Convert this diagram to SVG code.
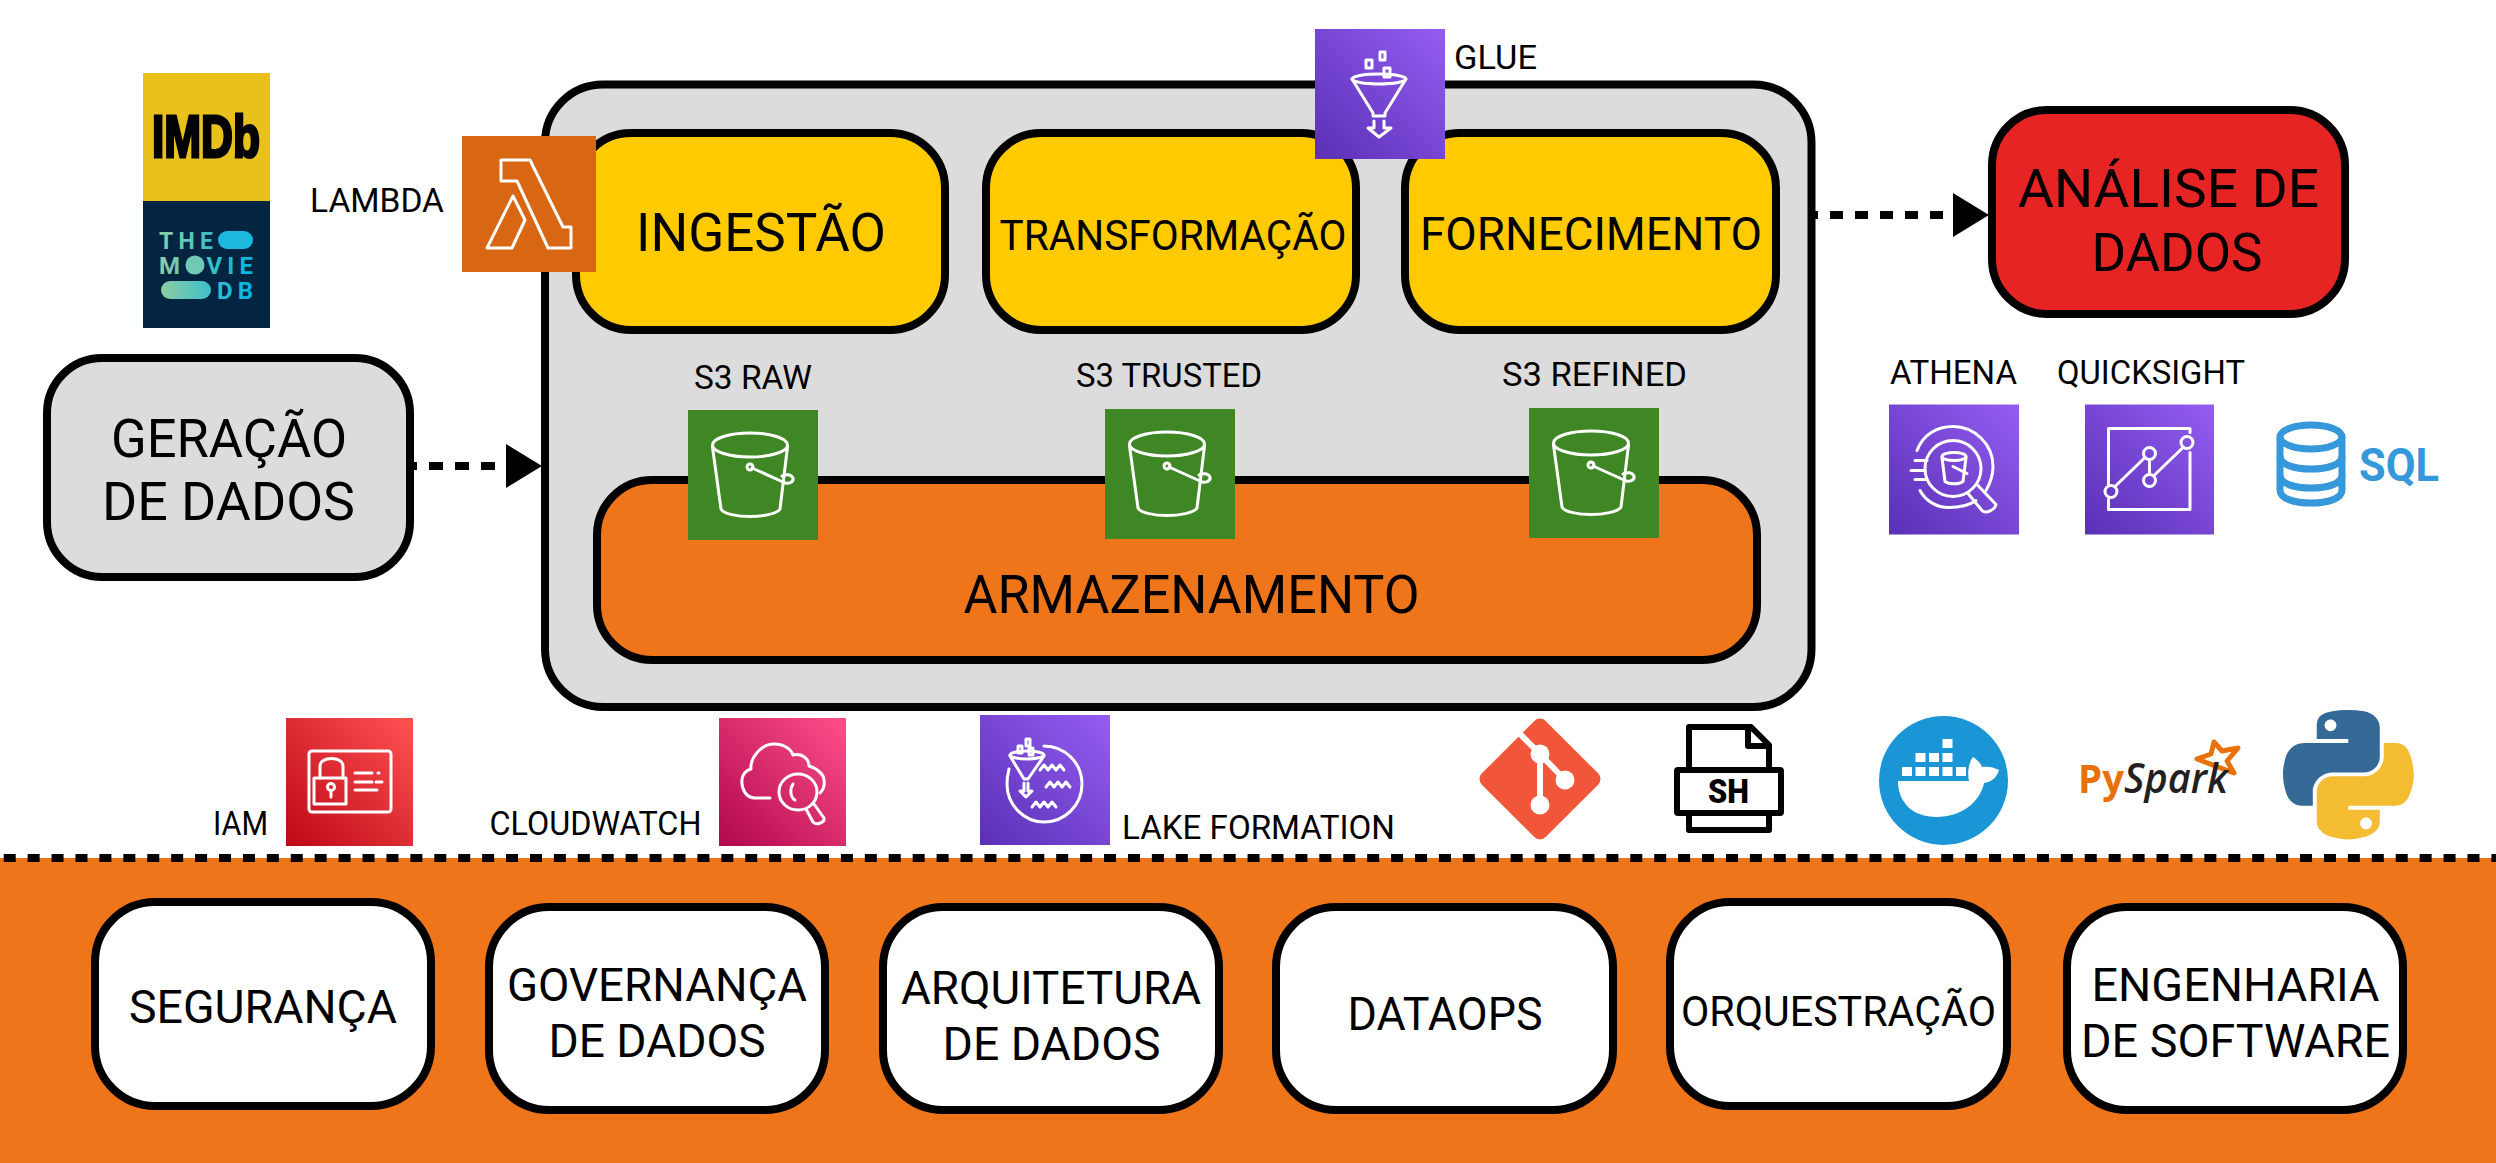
<svg xmlns="http://www.w3.org/2000/svg" width="2496" height="1163" viewBox="0 0 2496 1163">
<style>
text{font-family:Roboto,"Noto Sans",sans-serif;fill:#000}
.box{stroke:#000;stroke-width:8}
.gray{fill:#dcdcdc}.yel{fill:#ffcb00}.org{fill:#ee751a}.red{fill:#e62424}.wht{fill:#fff}
.t52{font-size:53px}.t46{font-size:46px}.t42{font-size:43px}.t33{font-size:33px}
.ico{fill:none;stroke:#fff;stroke-width:3;stroke-linejoin:round;stroke-linecap:round}
.dash{fill:none;stroke:#000;stroke-width:8}
.db{fill:none;stroke:#3498db;stroke-width:7}
</style>
<defs>
<linearGradient id="purple" x1="0" y1="1" x2="1" y2="0"><stop offset="0" stop-color="#5a30b5"/><stop offset="1" stop-color="#945df2"/></linearGradient>
<linearGradient id="iamg" x1="0" y1="1" x2="1" y2="0"><stop offset="0" stop-color="#bd0816"/><stop offset="1" stop-color="#ff5252"/></linearGradient>
<linearGradient id="cwg" x1="0" y1="1" x2="1" y2="0"><stop offset="0" stop-color="#b0084d"/><stop offset="1" stop-color="#ff4f8b"/></linearGradient>
<linearGradient id="tm" gradientUnits="userSpaceOnUse" x1="159" y1="0" x2="253" y2="0"><stop offset="0" stop-color="#90cea1"/><stop offset=".55" stop-color="#3cbec9"/><stop offset="1" stop-color="#01b4e4"/></linearGradient>
<g id="bucket">
<rect width="130" height="130" fill="#3f8624"/>
<g class="ico">
<ellipse cx="62" cy="35" rx="37.5" ry="12"/>
<path d="M24.500 37L33 99C35 104 50 106.500 62 106.500C74 106.500 89 104 92 99L99.500 37"/>
<circle cx="62" cy="57" r="3"/>
<path d="M64 58L95 72C100 75 106 72 105 68C103 64 98 64 94 66"/>
</g>
</g>
</defs>

<rect width="2496" height="1163" fill="#fff"/>
<rect x="0" y="858" width="2496" height="305" class="org"/>

<g id="connectors">
<path class="dash" d="M403 466H495" stroke-dasharray="14 12"/>
<polygon points="506,444 542,466 506,488" fill="#000"/>
<path class="dash" d="M1805 215H1943" stroke-dasharray="13 12"/>
<polygon points="1953,193 1989,215 1953,237" fill="#000"/>
<path class="dash" d="M-20.200 858H2496" stroke-dasharray="12 11.920"/>
</g>

<g id="geracao">
<rect class="box gray" x="47" y="358" width="363" height="219" rx="55"/>
<text class="t52" x="111" y="457" textLength="236" lengthAdjust="spacingAndGlyphs">GERAÇÃO</text>
<text class="t52" x="102" y="520" textLength="253" lengthAdjust="spacingAndGlyphs">DE DADOS</text>
</g>

<g id="painel">
<rect class="box gray" x="545" y="84.500" width="1266.500" height="622.500" rx="58"/>
</g>

<g id="ingestao">
<rect class="box yel" x="576" y="133" width="369" height="197" rx="55"/>
<text class="t52" x="636" y="251" textLength="250" lengthAdjust="spacingAndGlyphs">INGESTÃO</text>
</g>
<g id="transformacao">
<rect class="box yel" x="986" y="133" width="370" height="197" rx="55"/>
<text class="t42" x="999.500" y="250" textLength="347" lengthAdjust="spacingAndGlyphs">TRANSFORMAÇÃO</text>
</g>
<g id="fornecimento">
<rect class="box yel" x="1405" y="133" width="371" height="197" rx="55"/>
<text class="t46" x="1420" y="250" textLength="342" lengthAdjust="spacingAndGlyphs">FORNECIMENTO</text>
</g>
<g id="armazenamento">
<rect class="box org" x="597" y="480" width="1160" height="180" rx="55"/>
<text class="t52" x="963.500" y="613" textLength="456" lengthAdjust="spacingAndGlyphs">ARMAZENAMENTO</text>
</g>
<g id="analise">
<rect class="box red" x="1992" y="110" width="353" height="204" rx="55"/>
<text class="t52" x="2018" y="207" textLength="301" lengthAdjust="spacingAndGlyphs">ANÁLISE DE</text>
<text class="t52" x="2091.500" y="271" textLength="171" lengthAdjust="spacingAndGlyphs">DADOS</text>
</g>

<g id="imdb">
<rect x="143" y="73" width="127" height="128" fill="#e8c11c"/>
<text x="152" y="157" font-size="60" font-weight="700" style="font-family:'Liberation Sans',sans-serif" stroke="#000" stroke-width="3" textLength="108" lengthAdjust="spacingAndGlyphs">IMDb</text>
</g>
<g id="tmdb">
<rect x="143" y="201" width="127" height="127" fill="#032541"/>
<text x="159" y="249" font-size="23" font-weight="700" style="fill:url(#tm)" textLength="54">THE</text>
<rect x="218" y="231" width="35" height="18" rx="9" fill="#1cb8de"/>
<text x="159" y="274" font-size="24" font-weight="700" style="fill:url(#tm)" textLength="94">MOVIE</text>
<circle cx="195" cy="265" r="9.500" fill="#6fc9b4"/>
<rect x="161" y="281" width="50" height="18" rx="9" fill="url(#tm)"/>
<text x="217" y="299" font-size="24" font-weight="700" style="fill:url(#tm)" textLength="36">DB</text>
</g>

<g id="lambda">
<text class="t33" x="310" y="212" textLength="134" lengthAdjust="spacingAndGlyphs">LAMBDA</text>
<rect x="462" y="136" width="134" height="136" fill="#d86613"/>
<g transform="translate(462 136)" class="ico">
<path d="M39 24H68L101 91H109V112H86L55 45H39Z"/>
<path d="M51 60L63 84L50 112H25Z"/>
</g>
</g>

<g id="glue">
<rect x="1315" y="29" width="130" height="130" fill="url(#purple)"/>
<g transform="translate(1315 29)" class="ico">
<rect x="65" y="23" width="5" height="8"/><rect x="51" y="31" width="6" height="8"/><rect x="69" y="39" width="6" height="9"/>
<ellipse cx="64" cy="50" rx="27" ry="5"/>
<path d="M37 50L58 84V87H70V84L91 50"/>
<path d="M59 92V99H53L64 108L76 99H69V92"/>
</g>
<text class="t33" x="1454" y="69" textLength="83" lengthAdjust="spacingAndGlyphs">GLUE</text>
</g>

<g id="s3raw">
<text class="t33" x="694" y="389" textLength="118" lengthAdjust="spacingAndGlyphs">S3 RAW</text>
<use href="#bucket" x="688" y="410"/>
</g>
<g id="s3trusted">
<text class="t33" x="1076" y="387" textLength="186" lengthAdjust="spacingAndGlyphs">S3 TRUSTED</text>
<use href="#bucket" x="1105" y="409"/>
</g>
<g id="s3refined">
<text class="t33" x="1502" y="386" textLength="185" lengthAdjust="spacingAndGlyphs">S3 REFINED</text>
<use href="#bucket" x="1529" y="408"/>
</g>

<g id="athena">
<text class="t33" x="1890" y="384" textLength="127" lengthAdjust="spacingAndGlyphs">ATHENA</text>
<rect x="1889" y="404.500" width="130" height="130" fill="url(#purple)"/>
<g transform="translate(1889 404.500)" class="ico">
<path d="M28 46C34 30 48 22 64 22C86 22 104 40 104 62C104 70 101 79 97 86"/>
<path d="M31 86C37 97 48 103 60 103C70 103 80 101 87 96"/>
<circle cx="64" cy="64" r="28"/>
<ellipse cx="65" cy="52" rx="12" ry="4"/>
<path d="M53 53L56 77C60 80 70 80 74 77L77 53"/>
<path d="M64 62L78 69"/>
<path d="M26 56H38M22 66H36M26 75H38"/>
<path d="M79 89L93 106C97 110 106 105 107 100L89 81"/>
</g>
</g>
<g id="quicksight">
<text class="t33" x="2057" y="384" textLength="188" lengthAdjust="spacingAndGlyphs">QUICKSIGHT</text>
<rect x="2085" y="404.500" width="129" height="130" fill="url(#purple)"/>
<g transform="translate(2085 404.500)" class="ico">
<path d="M23.500 80V24H105V28M105 48V105H23.500V95"/>
<circle cx="26" cy="87" r="6"/><circle cx="64.500" cy="49" r="6"/><circle cx="64.500" cy="76" r="6"/><circle cx="102" cy="38" r="6"/>
<path d="M30 82L60 53M64.500 55V70M69 71L98 43"/>
</g>
</g>
<g id="sql">
<ellipse class="db" cx="2311" cy="437" rx="31" ry="12"/>
<path class="db" d="M2280 437V490C2280 499 2295 503 2311 503C2327 503 2342 499 2342 490V437"/>
<path class="db" d="M2280 456C2280 465 2295 469 2311 469C2327 469 2342 465 2342 456M2280 475C2280 484 2295 488 2311 488C2327 488 2342 484 2342 475"/>
<text x="2359" y="481" font-size="46" font-weight="700" style="fill:#3498db" textLength="80" lengthAdjust="spacingAndGlyphs">SQL</text>
</g>

<g id="iam">
<text class="t33" x="213" y="835" textLength="55" lengthAdjust="spacingAndGlyphs">IAM</text>
<rect x="286" y="718" width="127" height="128" fill="url(#iamg)"/>
<g transform="translate(286 718)" class="ico">
<rect x="23" y="33" width="82" height="61" rx="3"/>
<path d="M34 60V48C34 38 57 38 57 48V60"/>
<rect x="28" y="60" width="32" height="26"/>
<circle cx="45" cy="69" r="3.500"/><path d="M45 73V79"/>
<path d="M69 55H86M92 55H93M69 64H86M90 64H96M69 72H91"/>
</g>
</g>
<g id="cloudwatch">
<text class="t33" x="489.500" y="835" textLength="212" lengthAdjust="spacingAndGlyphs">CLOUDWATCH</text>
<rect x="719" y="718" width="127" height="128" fill="url(#cwg)"/>
<g transform="translate(719 718)" class="ico">
<path d="M51 80H36C28 80 22 72 23 62C23 57 27 52 32 51C31 40 42 26 55 26C65 26 72 31 74 37C82 35 90 40 90 48C97 50 105 56 105 62C106 68 104 72 101 75"/>
<ellipse cx="79" cy="74" rx="19" ry="18"/>
<path d="M74 66C70 72 72 80 76 82"/>
<path d="M87 91L94 104C98 108 106 104 105 100L95 86"/>
</g>
</g>
<g id="lakeformation">
<rect x="980" y="715" width="130" height="130" fill="url(#purple)"/>
<g transform="translate(980 715)" class="ico">
<path d="M64 31C85 31 102 48 102 69C102 90 85 107 64 107C44 107 27 90 27 69C27 62 28 58 29 54"/>
<rect x="46" y="24" width="4" height="7"/><rect x="38" y="31" width="4" height="7"/><rect x="49" y="33" width="4" height="7"/>
<ellipse cx="47" cy="40" rx="17" ry="4"/>
<path d="M30 41L44 64H48L64 41"/>
<path d="M44 68V76H40L46 82L52 76H48V68"/>
<path d="M60 55L64 50L68 55L72 50L76 55L80 50L84 55M66 72L70 67L74 72L78 67L82 72L86 67L90 72M52 92L56 87L60 92L64 87L68 92L72 87L76 92"/>
</g>
<text class="t33" x="1122" y="839" textLength="273" lengthAdjust="spacingAndGlyphs">LAKE FORMATION</text>
</g>

<g id="git">
<rect x="1494.900" y="733.900" width="90.200" height="90.200" rx="8" transform="rotate(45 1540 779)" fill="#f2563a"/>
<path d="M1516 730L1540 754L1565 780M1540 754V805" fill="none" stroke="#fff" stroke-width="6"/>
<circle cx="1540" cy="754" r="9.500" fill="#fff"/><circle cx="1565" cy="780" r="9.500" fill="#fff"/><circle cx="1540" cy="805" r="9.500" fill="#fff"/>
</g>
<g id="sh">
<path d="M1689 767V727H1751L1769 745V767M1748 727V746H1769M1689 816V830H1769V816" fill="none" stroke="#000" stroke-width="6" stroke-linejoin="round"/>
<rect x="1677" y="770" width="104" height="43" rx="1" fill="#fff" stroke="#000" stroke-width="6" stroke-linejoin="round"/>
<text x="1708" y="803" font-size="33" font-weight="900" textLength="41" lengthAdjust="spacingAndGlyphs">SH</text>
</g>
<g id="docker">
<circle cx="1943.500" cy="780.500" r="64.500" fill="#1a95d6"/>
<g fill="#fff">
<rect x="1902" y="767" width="10" height="9"/><rect x="1915.500" y="767" width="10" height="9"/><rect x="1929" y="767" width="10" height="9"/><rect x="1942.500" y="767" width="10" height="9"/><rect x="1956" y="767" width="10" height="9"/>
<rect x="1915.500" y="753" width="10" height="9"/><rect x="1929" y="753" width="10" height="9"/><rect x="1942.500" y="753" width="10" height="9"/>
<rect x="1942.500" y="739" width="10" height="9"/>
<path d="M1898 781H1969C1967 772 1969 762 1973 757C1978 760 1981 764 1982 767C1987 766 1994 767 1999 770C1997 777 1992 782 1984 783C1980 803 1960 817 1937 817C1912 817 1898 802 1898 781Z"/>
</g>
</g>
<g id="pyspark">
<polygon points="2214,742 2222,751 2238,748 2227,761 2234,773 2218,767 2197,759 2211,754" fill="#fff" stroke="#e8710a" stroke-width="5" stroke-linejoin="round"/>
<text x="2078" y="793" font-size="40" font-weight="700" style="font-family:'Open Sans',sans-serif;fill:#e8710a" textLength="46" lengthAdjust="spacingAndGlyphs">Py</text>
<text x="2124" y="793" font-size="41" font-weight="600" font-style="italic" style="font-family:'Open Sans',sans-serif;fill:#231f20" textLength="104" lengthAdjust="spacingAndGlyphs">Spark</text>
</g>
<g id="python" transform="translate(2283 710) scale(1.176 1.152)">
<path fill="#366a96" d="M54.920 0.001C50.335 0.022 45.956 0.413 42.104 1.095C30.755 3.099 28.695 7.295 28.695 15.032V25.250H55.514V28.656H18.630C10.836 28.656 4.010 33.340 1.875 42.250C-0.589 52.461 -0.698 58.834 1.875 69.500C3.781 77.438 8.334 83.094 16.129 83.094H25.350V70.844C25.350 61.994 33.008 54.188 42.104 54.188H68.893C76.350 54.188 82.303 48.048 82.303 40.563V15.032C82.303 7.766 76.173 2.308 68.893 1.095C64.284 0.328 59.503 -0.020 54.920 0.001ZM40.417 8.219C43.187 8.219 45.450 10.518 45.450 13.344C45.450 16.160 43.187 18.438 40.417 18.438C37.637 18.438 35.385 16.160 35.385 13.344C35.385 10.518 37.637 8.219 40.417 8.219Z"/>
<path fill="#f4bc30" d="M85.639 28.656V40.563C85.639 49.794 77.813 57.563 68.889 57.563H42.104C34.767 57.563 28.695 63.842 28.695 71.189V96.720C28.695 103.986 35.014 108.260 42.104 110.345C50.594 112.842 58.737 113.293 68.893 110.345C75.645 108.390 82.303 104.456 82.303 96.720V86.500H55.514V83.094H95.713C103.507 83.094 106.412 77.657 109.123 69.500C111.923 61.102 111.804 53.026 109.123 42.250C107.197 34.492 103.518 28.656 95.713 28.656ZM70.576 93.404C73.356 93.404 75.608 95.682 75.608 98.498C75.608 101.324 73.356 103.623 70.576 103.623C67.806 103.623 65.543 101.324 65.543 98.498C65.543 95.682 67.806 93.404 70.576 93.404Z"/>
</g>

<g id="seguranca">
<rect class="box wht" x="95" y="902" width="336" height="204" rx="60"/>
<text class="t46" x="129" y="1023" textLength="268" lengthAdjust="spacingAndGlyphs">SEGURANÇA</text>
</g>
<g id="governanca">
<rect class="box wht" x="489" y="907" width="336" height="203" rx="60"/>
<text class="t46" x="507" y="1001" textLength="300" lengthAdjust="spacingAndGlyphs">GOVERNANÇA</text>
<text class="t46" x="548.500" y="1057" textLength="217" lengthAdjust="spacingAndGlyphs">DE DADOS</text>
</g>
<g id="arquitetura">
<rect class="box wht" x="883" y="907" width="336" height="203" rx="60"/>
<text class="t46" x="901" y="1004" textLength="300" lengthAdjust="spacingAndGlyphs">ARQUITETURA</text>
<text class="t46" x="942.500" y="1060" textLength="218" lengthAdjust="spacingAndGlyphs">DE DADOS</text>
</g>
<g id="dataops">
<rect class="box wht" x="1276" y="907" width="337" height="203" rx="60"/>
<text class="t46" x="1347.500" y="1030" textLength="195" lengthAdjust="spacingAndGlyphs">DATAOPS</text>
</g>
<g id="orquestracao">
<rect class="box wht" x="1670" y="902" width="337" height="204" rx="60"/>
<text class="t42" x="1681" y="1026" textLength="315" lengthAdjust="spacingAndGlyphs">ORQUESTRAÇÃO</text>
</g>
<g id="engenharia">
<rect class="box wht" x="2067" y="907" width="336" height="203" rx="60"/>
<text class="t46" x="2091.500" y="1001" textLength="288" lengthAdjust="spacingAndGlyphs">ENGENHARIA</text>
<text class="t46" x="2081" y="1057" textLength="309" lengthAdjust="spacingAndGlyphs">DE SOFTWARE</text>
</g>
</svg>
